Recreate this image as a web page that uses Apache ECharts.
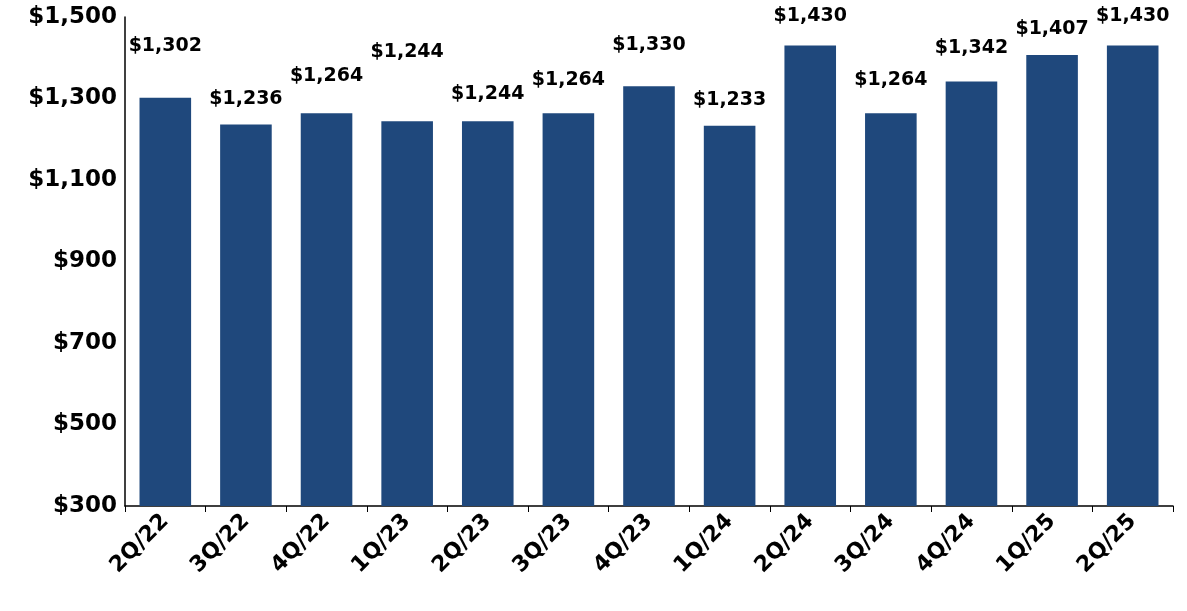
<!DOCTYPE html>
<html>
<head>
<meta charset="utf-8">
<script src="https://cdn.jsdelivr.net/npm/echarts@6/dist/echarts.min.js"></script>
<style>html,body{margin:0;background:#fff}#c{width:1187px;height:611px}</style>
</head>
<body>
<div id="c"></div>
<script>
const quarters = ['2Q/22', '3Q/22', '4Q/22', '1Q/23', '2Q/23', '3Q/23', '4Q/23', '1Q/24', '2Q/24', '3Q/24', '4Q/24', '1Q/25', '2Q/25'];
const values = [1302, 1236, 1264, 1244, 1244, 1264, 1330, 1233, 1430, 1264, 1342, 1407, 1430];
// extra lift of each value label above its bar, px
const labelLift = [30, 4, 16, 48, 6, 12, 20, 4, 8, 12, 12, 4, 8];

const chart = echarts.init(document.getElementById('c'));
chart.setOption({
  animation: false,
  grid: { left: 125, right: 14, top: 17, bottom: 105 },
  xAxis: {
    type: 'category',
    data: quarters,
    axisLine: { lineStyle: { color: '#000', width: 1.5 } },
    axisTick: { show: true, length: 6, lineStyle: { color: '#000' } },
    axisLabel: { rotate: 45, color: '#000', fontSize: 22, fontWeight: 'bold', fontFamily: 'DejaVu Sans', margin: 12 }
  },
  yAxis: {
    type: 'value',
    min: 300,
    max: 1500,
    interval: 200,
    splitLine: { show: false },
    axisLine: { show: true, lineStyle: { color: '#000', width: 1.5 } },
    axisTick: { show: false },
    axisLabel: {
      color: '#000', fontSize: 23, fontWeight: 'bold', fontFamily: 'DejaVu Sans', margin: 8,
      formatter: (v) => '$' + v.toLocaleString('en-US')
    }
  },
  series: [{
    type: 'bar',
    barWidth: '64%',
    itemStyle: { color: '#1f487c' },
    data: values.map((v, i) => ({
      value: v,
      label: { distance: 12 + labelLift[i] }
    })),
    label: {
      show: true,
      position: 'top',
      color: '#000',
      fontSize: 19,
      fontWeight: 'bold',
      fontFamily: 'DejaVu Sans',
      formatter: (p) => '$' + p.value.toLocaleString('en-US')
    }
  }]
});
</script>
</body>
</html>
